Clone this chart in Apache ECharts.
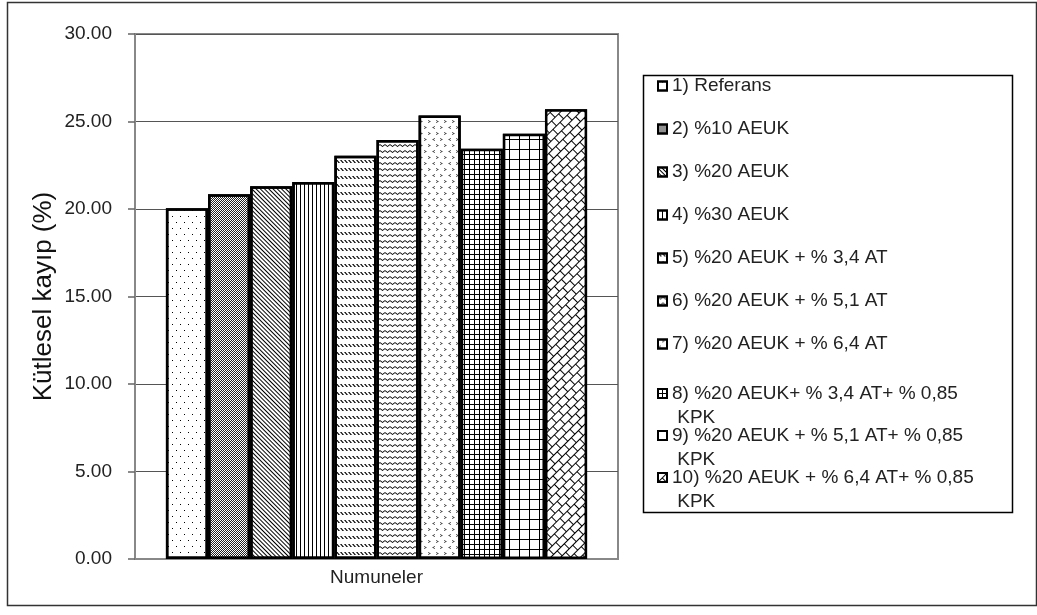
<!DOCTYPE html>
<html>
<head>
<meta charset="utf-8">
<script src="https://cdn.jsdelivr.net/npm/echarts@6/dist/echarts.min.js"></script>
<style>
  html, body { margin: 0; padding: 0; background: #fff; }
  #chart { width: 1037px; height: 615px; }
</style>
</head>
<body>
<div id="chart"></div>
<script>
// Mass loss (%) of the ten mixtures
const categories = ['Numuneler'];
const seriesNames = [
  '1) Referans',
  '2) %10 AEUK',
  '3) %20 AEUK',
  '4) %30 AEUK',
  '5) %20 AEUK + % 3,4 AT',
  '6) %20 AEUK + % 5,1 AT',
  '7) %20 AEUK + % 6,4 AT',
  '8) %20 AEUK+ % 3,4 AT+ % 0,85 KPK',
  '9) %20 AEUK + % 5,1 AT+ % 0,85 KPK',
  '10) %20 AEUK + % 6,4 AT+ % 0,85 KPK'
];
const seriesValues = [20.05, 20.85, 21.3, 21.55, 23.05, 23.95, 25.35, 23.45, 24.3, 25.7];
const yAxisTitle = 'Kütlesel kayıp (%)';

const FONT = 'Liberation Sans, Arial, sans-serif';

// Black-and-white fill patterns, one per mixture
const fills = [
  { color: '#fff', decal: { symbol: 'rect', symbolSize: 1, color: '#000', dashArrayX: [[1, 7], [0, 4, 1, 3]], dashArrayY: [1, 5] } },
  { color: '#fff', decal: { symbol: 'rect', symbolSize: 1, color: '#222', dashArrayX: [[1, 1], [0, 1, 1, 0]], dashArrayY: [1, 0] } },
  { color: '#fff', decal: { symbol: 'rect', symbolSize: 1, color: '#000', dashArrayX: [1, 0], dashArrayY: [1, 2], rotation: Math.PI / 4 } },
  { color: '#fff', decal: { symbol: 'rect', symbolSize: 1, color: '#000', dashArrayX: [1, 3], dashArrayY: [4, 0] } },
  { color: '#fff', decal: { symbol: 'path://M0,0L1.5,0L4,3L2.5,3Z', symbolSize: 1, color: '#000', dashArrayX: [4, 0], dashArrayY: [3, 5] } },
  { color: '#fff', decal: { symbol: 'path://M0,0L2.5,2L5,0L5,1.2L2.5,3.2L0,1.2Z', symbolSize: 1, color: '#000', dashArrayX: [5, 0], dashArrayY: [3, 3] } },
  { color: '#fff', decal: { symbol: ['path://M3,0L0,1.5L3,3L3,2.2L1.4,1.5L3,0.8Z', 'path://M0,0L3,1.5L0,3L0,2.2L1.6,1.5L0,0.8Z'], symbolSize: 1, color: '#333', dashArrayX: [[3, 5], [0, 4, 3, 1]], dashArrayY: [3, 3] } },
  { color: '#000', decal: { symbol: 'rect', symbolSize: 1, color: '#fff', dashArrayX: [4, 1], dashArrayY: [4, 1] } },
  { color: '#000', decal: { symbol: 'rect', symbolSize: 1, color: '#fff', dashArrayX: [9, 1], dashArrayY: [9, 1] } },
  { color: '#000', decal: { symbol: 'rect', symbolSize: 1, color: '#fff', dashArrayX: [[9, 1], [4, 1, 5, 0]], dashArrayY: [6, 1], rotation: -Math.PI / 4 } }
];

const series = seriesNames.map((name, i) => ({
  name: name,
  type: 'bar',
  data: [seriesValues[i]],
  barGap: '0%',
  barCategoryGap: '12.8%',
  itemStyle: {
    color: fills[i].color,
    decal: fills[i].decal,
    borderColor: '#000',
    borderWidth: 2.5
  },
  emphasis: { disabled: true }
}));

const shortNames = seriesNames.filter(n => n.indexOf('KPK') < 0);
const longNames = seriesNames.filter(n => n.indexOf('KPK') >= 0);

const legendCommon = {
  orient: 'vertical',
  padding: 0,
  itemWidth: 9, itemHeight: 9,
  icon: 'rect',
  selectedMode: false,
  itemStyle: { borderColor: '#000', borderWidth: 2 }
};

const chart = echarts.init(document.getElementById('chart'), null, { renderer: 'canvas' });

chart.setOption({
  animation: false,
  backgroundColor: '#fff',
  textStyle: { fontFamily: FONT },
  grid: {
    left: 135, right: 419, top: 34, bottom: 56,
    show: true, borderColor: '#888', borderWidth: 2, backgroundColor: 'transparent'
  },
  xAxis: {
    type: 'category',
    data: categories,
    axisLine: { show: true, lineStyle: { color: '#888', width: 2 } },
    axisTick: { show: false },
    axisLabel: { margin: 9, fontSize: 19, color: '#222', fontFamily: FONT }
  },
  yAxis: {
    type: 'value',
    min: 0, max: 30, interval: 5,
    name: yAxisTitle,
    nameLocation: 'middle',
    nameGap: 78,
    nameTextStyle: { fontSize: 26, color: '#111', fontFamily: FONT },
    axisLine: { show: true, lineStyle: { color: '#888', width: 2 } },
    axisTick: { show: true, inside: false, length: 7, lineStyle: { color: '#666', width: 1.5 } },
    axisLabel: { margin: 23, fontSize: 19, color: '#222', fontFamily: FONT, formatter: v => v.toFixed(2) },
    splitLine: { show: true, lineStyle: { color: '#555', width: 1 } }
  },
  legend: [
    Object.assign({}, legendCommon, {
      left: 657, top: 76,
      itemGap: 23,
      textStyle: { fontSize: 19, lineHeight: 20, color: '#222', fontFamily: FONT },
      data: shortNames
    }),
    // Wrapped entries: the icon sits beside the first line
    Object.assign({}, legendCommon, {
      left: 657, top: 384,
      itemGap: -1,
      textStyle: {
        padding: [24, 0, 0, 0],
        color: '#222',
        rich: { t: { fontSize: 19, lineHeight: 24, color: '#222', fontFamily: FONT } }
      },
      formatter: name => {
        const cut = name.lastIndexOf(' KPK');
        return '{t|' + name.slice(0, cut) + '}\n{t| ' + name.slice(cut + 1) + '}';
      },
      data: longNames
    })
  ],
  graphic: [
    { type: 'rect', silent: true, z: -1, shape: { x: 7.5, y: 2.5, width: 1029, height: 603 }, style: { fill: null, stroke: '#333', lineWidth: 1.5 } },
    { type: 'rect', silent: true, z: -1, shape: { x: 643.5, y: 75.5, width: 369, height: 437 }, style: { fill: '#fff', stroke: '#000', lineWidth: 1.5 } }
  ],
  series: series
});
</script>
</body>
</html>
